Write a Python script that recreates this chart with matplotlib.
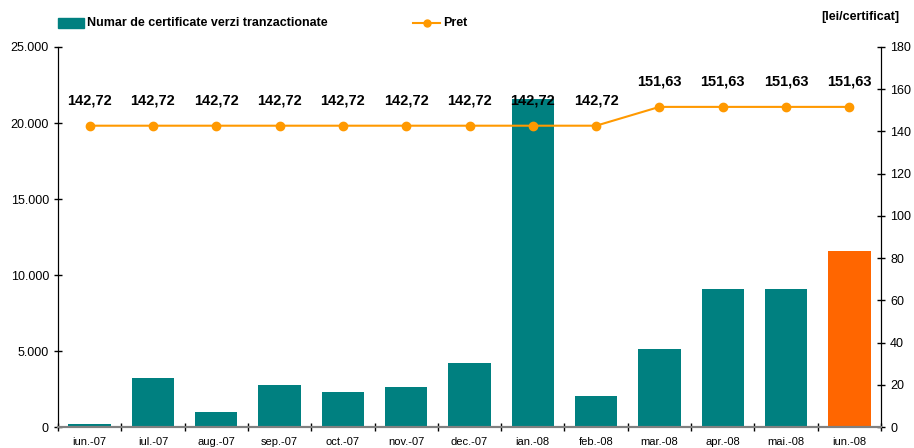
import matplotlib
matplotlib.use("Agg")
import matplotlib.pyplot as plt
from matplotlib.ticker import FuncFormatter, FixedLocator
from matplotlib.patches import Rectangle
from matplotlib.lines import Line2D

plt.rcParams['font.family'] = ['Liberation Sans', 'DejaVu Sans']

months = ['iun.-07', 'iul.-07', 'aug.-07', 'sep.-07', 'oct.-07', 'nov.-07', 'dec.-07',
          'ian.-08', 'feb.-08', 'mar.-08', 'apr.-08', 'mai.-08', 'iun.-08']
volumes = [200, 3220, 1000, 2780, 2320, 2640, 4230, 21600, 2060, 5100, 9050, 9050, 11600]
prices = [142.72, 142.72, 142.72, 142.72, 142.72, 142.72, 142.72, 142.72, 142.72,
          151.63, 151.63, 151.63, 151.63]
price_labels = ['142,72'] * 9 + ['151,63'] * 4

teal = '#008080'
orange_bar = '#FF6600'
line_col = '#FF9900'

fig = plt.figure(figsize=(9.14, 4.48), dpi=100)
ax = fig.add_axes([58/914, 1-427/448, (881-58)/914, (427-47)/448])
ax2 = ax.twinx()

x = list(range(len(months)))
colors = [teal] * (len(months) - 1) + [orange_bar]
ax.bar(x, volumes, width=0.67, color=colors, zorder=2)
ax.set_xlim(-0.5, len(months) - 0.5)
ax.set_ylim(0, 25000)
ax.yaxis.set_major_locator(FixedLocator([0, 5000, 10000, 15000, 20000, 25000]))
ax.yaxis.set_major_formatter(FuncFormatter(lambda v, p: f"{int(v):,}".replace(',', '.')))

ax.set_xticks(x)
ax.set_xticklabels(months, fontsize=8)
ax.xaxis.set_minor_locator(FixedLocator([i + 0.5 for i in range(-1, len(months))]))
ax.tick_params(axis='x', which='major', length=0, pad=7)
ax.tick_params(axis='x', which='minor', length=6, direction='inout', width=1)
ax.tick_params(axis='y', length=6, direction='inout', labelsize=9, width=1)

ax2.plot(x, prices, color=line_col, marker='o', markersize=6, linewidth=1.5, zorder=3)
ax2.set_ylim(0, 180)
ax2.set_yticks(range(0, 181, 20))
ax2.tick_params(axis='y', length=6, direction='inout', labelsize=9, width=1)
for xi, pv, lab in zip(x, prices, price_labels):
    ax2.annotate(lab, (xi, pv), xytext=(0, 13), textcoords='offset points',
                 ha='center', va='bottom', fontsize=10.5, fontweight='bold')

for a in (ax, ax2):
    a.spines['top'].set_visible(False)
    a.spines['left'].set_color('black')
    a.spines['right'].set_color('black')
    a.spines['bottom'].set_color('#808080')
    a.spines['bottom'].set_linewidth(1.5)
    a.set_facecolor('none')

# Legend at top
fig.patches.append(Rectangle((58/914, 1-28/448), 26/914, 10/448, transform=fig.transFigure,
                             color=teal, figure=fig))
fig.text(87/914, 1-23/448, 'Numar de certificate verzi tranzactionate', fontsize=9,
         fontweight='bold', va='center', ha='left')
fig.add_artist(Line2D([413/914, 440/914], [1-23/448, 1-23/448], transform=fig.transFigure,
                      color=line_col, linewidth=1.5, marker=None))
fig.add_artist(Line2D([426.5/914], [1-23/448], transform=fig.transFigure,
                      color=line_col, marker='o', markersize=5))
fig.text(443/914, 1-23/448, 'Pret', fontsize=9, fontweight='bold', va='center', ha='left')
fig.text(899/914, 1-17/448, '[lei/certificat]', fontsize=9, fontweight='bold',
         va='center', ha='right')

fig.savefig('out.png', dpi=100)
